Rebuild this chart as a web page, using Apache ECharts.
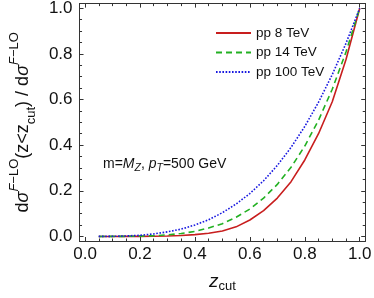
<!DOCTYPE html>
<html><head><meta charset="utf-8">
<script src="https://cdn.jsdelivr.net/npm/echarts@6/dist/echarts.min.js"></script>
<style>html,body{margin:0;padding:0;background:#fff}#c{width:374px;height:298px}</style>
</head><body><div id="c"></div>
<script>
const zcut = [0.05,0.10,0.15,0.20,0.25,0.30,0.35,0.40,0.45,0.50,0.55,0.60,0.65,0.70,0.75,0.80,0.85,0.90,0.95,1.00];
const pp8 = [0.0000,0.0000,0.0001,0.0003,0.0007,0.0018,0.0040,0.0080,0.0140,0.0240,0.0420,0.0720,0.1130,0.1680,0.2400,0.3350,0.4500,0.5900,0.7750,1.0000];
const pp14 = [0.0000,0.0001,0.0004,0.0013,0.0030,0.0068,0.0130,0.0220,0.0370,0.0560,0.0840,0.1200,0.1680,0.2280,0.3030,0.3960,0.5090,0.6450,0.8080,1.0000];
const pp100 = [0.0001,0.0005,0.0020,0.0050,0.0110,0.0200,0.0320,0.0500,0.0730,0.1040,0.1420,0.1880,0.2440,0.3110,0.3900,0.4820,0.5880,0.7090,0.8460,1.0000];
const seriesNames = ['pp 8 TeV','pp 14 TeV','pp 100 TeV'];
const majorTicks = [0,0.2,0.4,0.6,0.8,1.0];
const minorTicks = [0.05,0.1,0.15,0.25,0.3,0.35,0.45,0.5,0.55,0.65,0.7,0.75,0.85,0.9,0.95];

const FF = 'Liberation Sans, Arial, sans-serif';
const axisColor = '#333';
function pair(arrX, arrY){ return arrX.map((x,i)=>[x,arrY[i]]); }
function mkAxis(pos, ticks, len, labels, isX){
  return {
    type:'value', position:pos, min:-0.02, max:1.02,
    axisLine:{show:true, onZero:false, lineStyle:{color:axisColor,width:1}},
    axisTick:{show:true, inside:true, length:len, customValues:ticks, lineStyle:{color:axisColor,width:1}},
    axisLabel:{show:labels, customValues:ticks, formatter:v=>v.toFixed(1), fontFamily:FF, fontSize:17, color:'#111', margin:isX?5:7},
    splitLine:{show:false}
  };
}
const chart = echarts.init(document.getElementById('c'), null, {renderer:'canvas'});
const xa0 = mkAxis('bottom', majorTicks, 4, true, true);
xa0.name = '{z|z}{s|cut}';
xa0.nameLocation = 'middle';
xa0.nameGap = 30;
xa0.nameTextStyle = {rich:{
  z:{fontFamily:FF, fontStyle:'italic', fontSize:19, color:'#111', lineHeight:22, verticalAlign:'middle'},
  s:{fontFamily:FF, fontSize:13, color:'#111', lineHeight:12, verticalAlign:'bottom'}
}};
const ya0 = mkAxis('left', majorTicks, 4, true, false);
ya0.name = '{m|d}{mi|σ}{sup|F}{sup2|−LO}{m|(z<z}{sub|cut}{m|) / d}{mi|σ}{sup|F}{sup2|−LO}';
ya0.nameLocation = 'middle';
ya0.nameRotate = 90;
ya0.nameGap = 33;
ya0.nameTextStyle = {rich:{
  m:{fontFamily:FF, fontSize:18, color:'#111', lineHeight:30, verticalAlign:'middle'},
  mi:{fontFamily:FF, fontStyle:'italic', fontSize:18, color:'#111', lineHeight:30, verticalAlign:'middle'},
  sup:{fontFamily:FF, fontStyle:'italic', fontSize:13, color:'#111', lineHeight:15, verticalAlign:'top'},
  sup2:{fontFamily:FF, fontSize:13, color:'#111', lineHeight:15, verticalAlign:'top'},
  sub:{fontFamily:FF, fontSize:13, color:'#111', lineHeight:15, verticalAlign:'bottom'}
}};
const option = {
  animation:false,
  grid:{left:51.4, right:4.9, top:3.4, bottom:40.4, containLabel:false},
  xAxis:[
    xa0,
    mkAxis('bottom', minorTicks, 2.5, false, true),
    mkAxis('top', majorTicks, 4, false, true),
    mkAxis('top', minorTicks, 2.5, false, true)
  ],
  yAxis:[
    ya0,
    mkAxis('left', minorTicks, 2.5, false, false),
    mkAxis('right', majorTicks, 4, false, false),
    mkAxis('right', minorTicks, 2.5, false, false)
  ],
  legend:{
    orient:'vertical', left:210, top:21, itemWidth:35, itemHeight:12, itemGap:5.5,
    itemStyle:{opacity:0, borderWidth:0},
    textStyle:{fontFamily:FF, fontSize:13.5, color:'#111'},
    data:seriesNames
  },
  graphic:[{
    type:'text', left:103, top:157,
    style:{
      text:'{a|m=}{i|M}{si|Z}{a|, }{i|p}{si|T}{a|=500 GeV}',
      rich:{
        a:{fontFamily:FF, fontSize:14, fill:'#111', lineHeight:20, verticalAlign:'middle'},
        i:{fontFamily:FF, fontStyle:'italic', fontSize:14, fill:'#111', lineHeight:20, verticalAlign:'middle'},
        si:{fontFamily:FF, fontStyle:'italic', fontSize:10.5, fill:'#111', lineHeight:10, verticalAlign:'bottom'}
      }
    }
  }],
  series:[
    {name:seriesNames[0], type:'line', data:pair(zcut,pp8), showSymbol:false, symbol:'none',
     lineStyle:{color:'#c81e1e', width:1.6, type:'solid'}, itemStyle:{color:'#c81e1e'}},
    {name:seriesNames[1], type:'line', data:pair(zcut,pp14), showSymbol:false, symbol:'none',
     lineStyle:{color:'#22b022', width:1.6, type:[6,4]}, itemStyle:{color:'#22b022'}},
    {name:seriesNames[2], type:'line', data:pair(zcut,pp100), showSymbol:false, symbol:'none', smooth:false,
     lineStyle:{color:'#1818e0', width:1.6, type:[1.6,1.6]}, itemStyle:{color:'#1818e0'}}
  ]
};
chart.setOption(option);
</script></body></html>
